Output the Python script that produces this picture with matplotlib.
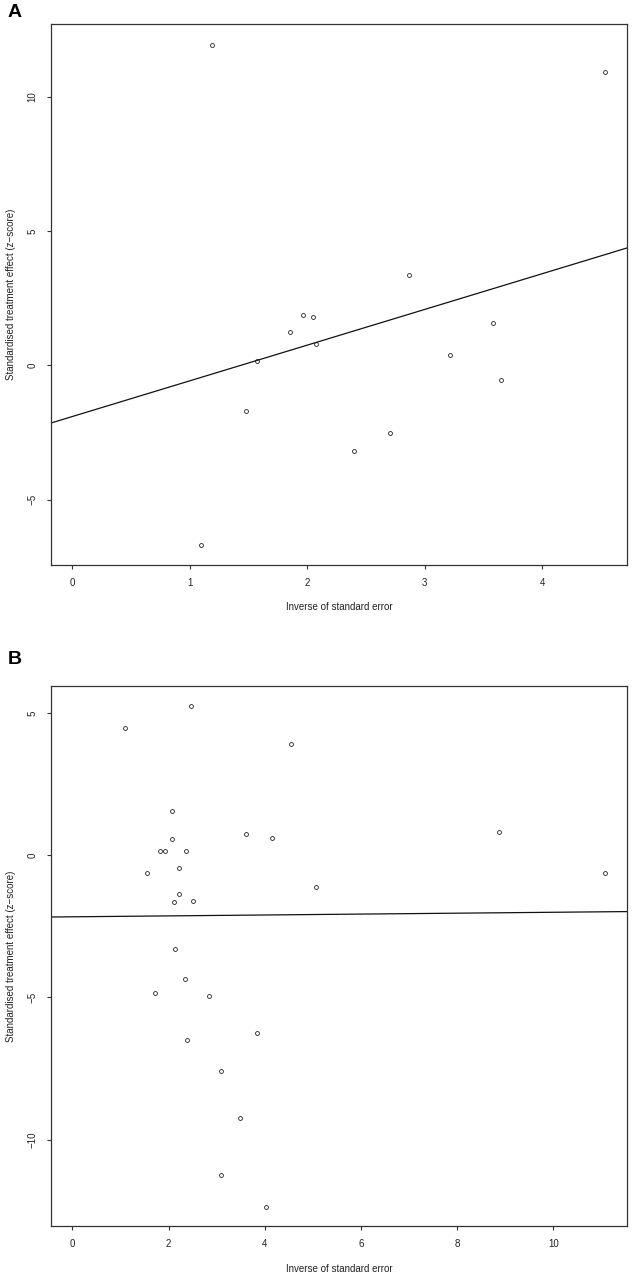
import matplotlib
matplotlib.use("Agg")
from matplotlib import pyplot as plt

plt.rcParams['font.family'] = ['Liberation Sans', 'DejaVu Sans']

# Panel A data (inverse SE, z-score)
a_prec = [1.193, 4.532, 2.862, 1.961, 2.050, 1.851, 3.578, 2.074,
          1.573, 3.215, 3.644, 1.474, 2.704, 2.400, 1.097]
a_z = [11.92, 10.92, 3.375, 1.887, 1.79, 1.254, 1.563, 0.808,
       0.164, 0.372, -0.558, -1.686, -2.516, -3.20, -6.70]
a_line = (-1.907, 1.331)   # intercept, slope

# Panel B data
b_prec = [2.466, 1.098, 4.538, 2.071, 2.080, 3.607, 4.161, 8.867,
          1.827, 1.920, 2.357, 1.543, 2.215, 11.08, 5.067, 2.215,
          2.122, 2.507, 2.13, 2.348, 1.727, 2.844, 3.841, 2.381,
          3.086, 3.481, 3.096, 4.027]
b_z = [5.24, 4.48, 3.90, 1.56, 0.57, 0.74, 0.60, 0.83,
       0.14, 0.14, 0.15, -0.62, -0.46, -0.62, -1.115, -1.37,
       -1.64, -1.60, -3.28, -4.34, -4.85, -4.96, -6.25, -6.50,
       -7.57, -9.24, -11.24, -12.36]
b_line = (-2.163, 0.0159)

xlabel = "Inverse of standard error"
ylabel = "Standardised treatment effect (z\u2212score)"

W, H = 632, 1276
fig = plt.figure(figsize=(W / 100, H / 100), dpi=100)

def panel(box, x, y, line, xlim, ylim, xticks, yticks, letter, letter_y):
    left, top, right, bottom = box
    ax = fig.add_axes([left / W, 1 - bottom / H, (right - left) / W, (bottom - top) / H])
    ax.plot(x, y, "o", ms=2.8, mfc="none", mec="#222222", mew=0.6)
    ax.axline((0, line[0]), slope=line[1], color="#111111", lw=0.9)
    ax.set_xlim(*xlim)
    ax.set_ylim(*ylim)
    ax.set_xticks(xticks)
    ax.set_yticks(yticks)
    for s in ax.spines.values():
        s.set_color("#333333")
        s.set_linewidth(0.9)
    ax.tick_params(direction="out", length=3, width=0.8, colors="#333333",
                   labelsize=7, labelcolor="#222222", pad=6.5)
    ax.tick_params(axis="y", labelrotation=90)
    for t in ax.get_yticklabels():
        t.set_va("center")
    ax.set_xlabel(xlabel, fontsize=7, color="#222222", labelpad=10.5)
    ax.set_ylabel(ylabel, fontsize=7, color="#222222", labelpad=8.5)
    fig.text(8 / W, 1 - letter_y / H, letter, fontsize=14, fontweight="bold",
             va="top", ha="left")
    return ax

panel((51, 24, 627, 564.5), a_prec, a_z, a_line, (-0.181, 4.72), (-7.42, 12.72),
      [0, 1, 2, 3, 4], [-5, 0, 5, 10], "A", 4)
panel((51, 686, 627, 1226), b_prec, b_z, b_line, (-0.445, 11.535), (-13.04, 5.956),
      [0, 2, 4, 6, 8, 10], [-10, -5, 0, 5], "B", 651)

fig.savefig("out.png", dpi=100)
